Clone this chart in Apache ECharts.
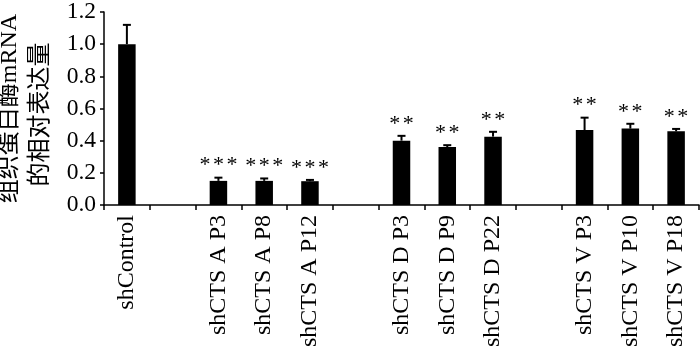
<!DOCTYPE html>
<html><head><meta charset="utf-8">
<script src="https://cdn.jsdelivr.net/npm/echarts@6/dist/echarts.min.js"></script>
<style>html,body{margin:0;padding:0;background:#fff}#c{width:700px;height:351px}</style>
</head><body><div id="c"></div>
<script>
const categories = ['shControl', '', 'shCTS A P3', 'shCTS A P8', 'shCTS A P12', '', 'shCTS D P3', 'shCTS D P9', 'shCTS D P22', '', 'shCTS V P3', 'shCTS V P10', 'shCTS V P18'];
const means = [1.00, null, 0.15, 0.15, 0.148, null, 0.40, 0.36, 0.425, null, 0.466, 0.475, 0.458];
const errors = [0.12, null, 0.02, 0.015, 0.008, null, 0.03, 0.012, 0.03, null, 0.077, 0.03, 0.015];
const starCounts = [0, 0, 3, 3, 3, 0, 2, 2, 2, 0, 2, 2, 2];
const yTicks = [0, 0.2, 0.4, 0.6, 0.8, 1.0, 1.2];
const yName = ['组织蛋白酶mRNA', '的相对表达量  '];

const serif = "Liberation Serif";
const chart = echarts.init(document.getElementById('c'));
const errData = categories.map((c, i) => means[i] == null ? null : [i, means[i], errors[i], starCounts[i]]).filter(d => d);

chart.setOption({
  animation: false,
  grid: { left: 104, right: 1, top: 12, bottom: 146, outerBoundsMode: 'none', containLabel: false },
  xAxis: {
    type: 'category', data: categories,
    axisLine: { lineStyle: { color: '#000', width: 1.5 } },
    axisTick: { show: true, interval: 0, length: 5, lineStyle: { color: '#000', width: 1.5 } },
    axisLabel: { interval: 0, rotate: 90, color: '#000', fontFamily: serif, fontSize: 24, margin: 10 }
  },
  yAxis: {
    type: 'value', min: yTicks[0], max: yTicks[yTicks.length - 1], interval: 0.2,
    name: yName.join('\n'),
    nameLocation: 'middle', nameRotate: 90, nameGap: 39,
    nameTextStyle: { color: '#000', fontFamily: "Liberation Serif, Noto Sans CJK SC", fontSize: 24, lineHeight: 30.5 },
    splitLine: { show: false },
    axisLine: { show: true, lineStyle: { color: '#000', width: 1.5 } },
    axisTick: { show: true, length: 4, lineStyle: { color: '#000', width: 1.5 } },
    axisLabel: { color: '#000', fontFamily: serif, fontSize: 23.5, margin: 8, formatter: v => v.toFixed(1) }
  },
  series: [
    { type: 'bar', data: means, barWidth: 17.5, itemStyle: { color: '#000' } },
    {
      type: 'custom', data: errData, z: 5,
      renderItem: function (params, api) {
        const x = api.value(0), m = api.value(1), e = api.value(2), n = api.value(3);
        const p0 = api.coord([x, m]);
        const p1 = api.coord([x, m + e]);
        const cw = 4;
        const children = [
          { type: 'line', shape: { x1: p0[0], y1: p0[1], x2: p1[0], y2: p1[1] }, style: { stroke: '#000', lineWidth: 2 } },
          { type: 'line', shape: { x1: p1[0] - cw, y1: p1[1], x2: p1[0] + cw, y2: p1[1] }, style: { stroke: '#000', lineWidth: 2 } }
        ];
        const pitch = 13.5;
        for (let k = 0; k < n; k++) {
          const dx = (k - (n - 1) / 2) * pitch;
          children.push({ type: 'text', style: { text: '*', x: p1[0] + dx, y: p1[1] - 12, align: 'center', verticalAlign: 'middle', font: '22px ' + serif, fill: '#000' } });
        }
        return { type: 'group', children: children };
      }
    }
  ]
});
</script></body></html>
